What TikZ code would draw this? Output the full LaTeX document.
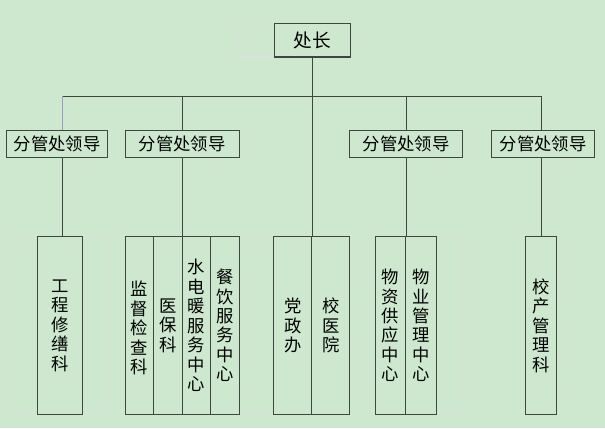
\documentclass[tikz,border=0pt]{standalone}
\usepackage{fontspec}
\newfontfamily\cjk{Noto Sans CJK SC}
\usetikzlibrary{calc}
\definecolor{sheetbg}{RGB}{205,232,207}
\definecolor{linec}{RGB}{62,70,62}
\definecolor{lavline}{RGB}{158,158,196}
\definecolor{gridc}{RGB}{218,224,218}

\begin{document}
\begin{tikzpicture}[x=0.75pt, y=-0.75pt,
	box/.style={draw=linec, line width=0.75pt, inner sep=0pt, minimum height=#1*0.75pt},
	lead/.style={box=26.6, minimum width=#1*0.75pt, font=\cjk\fontsize{13}{15}\selectfont},
	col/.style={box=177.6, minimum width=#1*0.75pt, align=center, font=\cjk\fontsize{13}{14.6}\selectfont},
	link/.style={draw=linec, line width=0.75pt},
	gridline/.style={draw=gridc, line width=0.75pt}]
			%%%%% START %%%%%
			
			\useasboundingbox[fill=sheetbg] (0, 0) rectangle (605, 428);
			
			% faint cell borders
			\draw[gridline] (239, 24) rectangle (274, 57);
			\draw[gridline] (6.7, 236.7) rectangle (108, 414.3);
			\draw[gridline] (239, 236.7) -- (273.7, 236.7);
			\draw[gridline] (239, 414.3) -- (273.7, 414.3);
			\draw[gridline] (436.7, 236.7) -- (461.7, 236.7) -- (461.7, 414.3) -- (436.7, 414.3);
			\foreach \gx in {37.3, 82.3, 153.7, 210.7, 375, 436.7, 525.3, 556.7}
				\draw[gridline] (\gx, 131.5) -- (\gx, 156.5);
			\draw[gridline] (312, 24.8) -- (312, 56.2);
			
			\node[box=33, minimum width=76*0.75pt, font=\cjk\fontsize{14}{16}\selectfont] (boss) at (312, 40.5) {处长};
			
			\node[lead=101] (lead1) at (57.2, 144) {分管处领导};
			\node[lead=114] (lead2) at (182.3, 144) {分管处领导};
			\node[lead=112.6] (lead3) at (406, 144) {分管处领导};
			\node[lead=102.7] (lead4) at (543.3, 144) {分管处领导};
			
			\node[col=45] (gcxk) at (59.8, 325.5) {工\\程\\修\\缮\\科};
			\node[col=28.4] (jdjck) at (139.5, 325.5) {\mbox{}\\监\\督\\检\\查\\科};
			\node[col=28.6] (ybk) at (168, 325.5) {医\\保\\科};
			\node[col=28.4] (sdn) at (196.5, 325.5) {水\\电\\暖\\服\\务\\中\\心};
			\node[col=28.3] (cyfw) at (224.85, 325.5) {餐\\饮\\服\\务\\中\\心};
			\node[col=38] (dzb) at (292.7, 325.5) {党\\政\\办};
			\node[col=38] (xyy) at (330.7, 325.5) {校\\医\\院};
			\node[col=30.4] (wzgy) at (390.5, 325.5) {物\\资\\供\\应\\中\\心};
			\node[col=31] (wygl) at (421.2, 325.5) {物\\业\\管\\理\\中\\心};
			\node[col=30.6] (xcgl) at (541, 325.5) {校\\产\\管\\理\\科};
			
			\coordinate (b1) at (62.7, 96);
			\coordinate (b2) at (182.3, 96);
			\coordinate (b4) at (406, 96);
			\coordinate (b5) at (541.5, 96);
			
			\draw[link] (b1) -- (b5);
			\draw[link] (boss.south) -- (boss.south |- dzb.north);
			
			\draw[draw=lavline, line width=0.75pt] (b1) -- (b1 |- lead1.north);
			\draw[link] (b1 |- lead1.south) -- (b1 |- gcxk.north);
			
			\draw[link] (b2) -- (b2 |- lead2.north);
			\draw[link] (b2 |- lead2.south) -- (b2 |- sdn.north);
			
			\draw[link] (b4) -- (b4 |- lead3.north);
			\draw[link] (b4 |- lead3.south) -- (b4 |- wygl.north);
			
			\draw[link] (b5) -- (b5 |- lead4.north);
			\draw[link] (b5 |- lead4.south) -- (b5 |- xcgl.north);
			
			%%%%% END %%%%%
\end{tikzpicture}
\end{document}
